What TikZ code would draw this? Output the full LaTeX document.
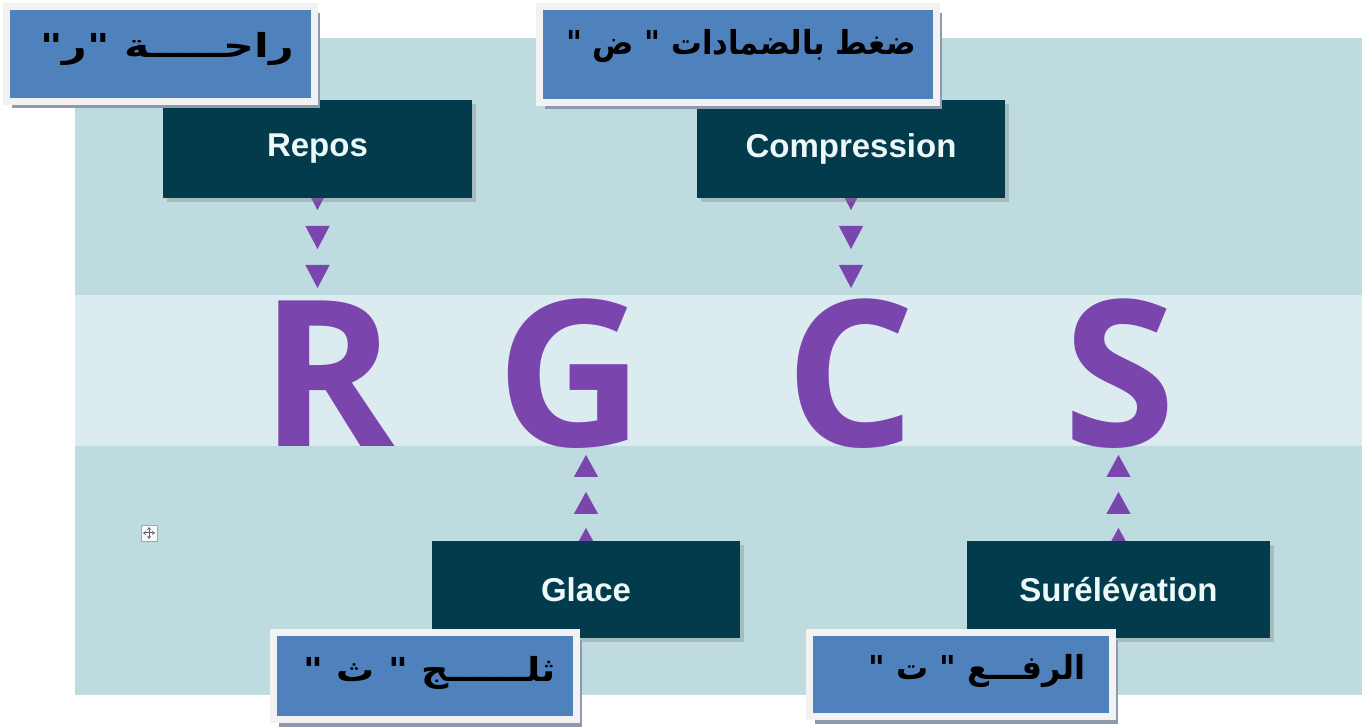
\documentclass[tikz,border=0pt]{standalone}
\usepackage{fontspec}
\setmainfont{Liberation Sans}
\newfontfamily\arabicfont[Script=Arabic]{DejaVu Sans}
\newfontfamily\bigfont{Open Sans}
\TeXXeTstate=1
\usetikzlibrary{arrows.meta,decorations.markings,shadows}
\definecolor{panel}{HTML}{BEDBE0}
\definecolor{band}{HTML}{DCEBEF}
\definecolor{darkbox}{HTML}{023C4C}
\definecolor{lettxt}{HTML}{EEF8F8}
\definecolor{purp}{HTML}{7B45AE}
\definecolor{lblblue}{HTML}{4F81BD}
\definecolor{lblframe}{HTML}{F2F2F2}
\definecolor{lblshadow}{HTML}{8E99AE}
\begin{document}
\begin{tikzpicture}[x=0.5pt,y=-0.5pt,
  termbox/.style={fill=darkbox,text=lettxt,font=\fontsize{16.5}{18}\selectfont\bfseries,
    inner sep=0pt,drop shadow={shadow xshift=2pt,shadow yshift=-2pt,opacity=.35}},
  bigletter/.style={text=purp,inner sep=0pt,anchor=base,font=\bigfont\bfseries\fontsize{102}{106}\selectfont},
  lblbox/.style={fill=lblblue,draw=lblframe,line width=3.5pt,inner sep=0pt,
    drop shadow={shadow xshift=2.5pt,shadow yshift=-3.5pt,fill=lblshadow,opacity=1}},
  lbltext/.style={text=black,inner sep=0pt,font=\arabicfont\bfseries\fontsize{16.5}{18}\selectfont},
  downmarks/.style={postaction={decorate},decoration={markings,
    mark=at position 6pt with {\arrow[purp]{Triangle[width=12pt,length=11.5pt]}},
    mark=at position 25.5pt with {\arrow[purp]{Triangle[width=12pt,length=11.5pt]}},
    mark=at position 45pt with {\arrow[purp]{Triangle[width=12pt,length=11.5pt]}}}},
  upmarks/.style={postaction={decorate},decoration={markings,
    mark=at position 6.5pt with {\arrow[purp]{Triangle[width=12pt,length=11pt]}},
    mark=at position 24.5pt with {\arrow[purp]{Triangle[width=12pt,length=11pt]}},
    mark=at position 43pt with {\arrow[purp]{Triangle[width=12pt,length=11pt]}}}}
]
\useasboundingbox (0,0) rectangle (1362,727);
\fill[white] (0,0) rectangle (1362,727);
% background panel and band
\fill[panel] (75,38) rectangle (1362,695);
\fill[band] (75,295) rectangle (1362,446);
% move icon
\fill[white!85!panel] (141,525) rectangle (157,541);
\draw[gray!70,line width=0.4pt] (141,525) rectangle (157,541);
\draw[gray!80!black,line width=0.5pt,-{Stealth[length=1.5pt,width=2pt]}] (149,533) -- (149,527);
\draw[gray!80!black,line width=0.5pt,-{Stealth[length=1.5pt,width=2pt]}] (149,533) -- (149,539);
\draw[gray!80!black,line width=0.5pt,-{Stealth[length=1.5pt,width=2pt]}] (149,533) -- (143,533);
\draw[gray!80!black,line width=0.5pt,-{Stealth[length=1.5pt,width=2pt]}] (149,533) -- (155,533);
% letters
\node[bigletter] (R) at (328,447) {R};
\node[bigletter] (G) at (570,447) {G};
\node[bigletter] (C) at (850,447) {C};
\node[bigletter] (S) at (1120,447) {S};
% connectors (drawn before boxes)
\coordinate (repC) at (317.5,198);
\coordinate (comC) at (851,198);
\coordinate (glaC) at (586,541);
\coordinate (surC) at (1118.5,541);
\path[downmarks] (repC) -- (repC |- R.north);
\path[downmarks] (comC) -- (comC |- C.north);
\path[upmarks] (glaC) -- (glaC |- G.south);
\path[upmarks] (surC) -- (surC |- S.south);
% term boxes
\node[termbox,minimum width=154.5pt,minimum height=49pt] (Repos) at (317.5,149) {Repos};
\node[termbox,minimum width=154pt,minimum height=49pt] (Comp) at (851,149) {Compression};
\node[termbox,minimum width=154pt,minimum height=48.5pt] (Glace) at (586,589.5) {Glace};
\node[termbox,minimum width=151.5pt,minimum height=48.5pt] (Sur) at (1118.5,589.5) {Surélévation};
% Arabic label boxes
\node[lblbox,minimum width=154pt,minimum height=47.5pt] (L1) at (160.5,54) {};
\node[lbltext] (T1) at (167,49) {\scalebox{1.3}[1]{\beginR راحـــــة "ر"\endR}};
\node[lblbox,minimum width=198.5pt,minimum height=48pt] (L2) at (738,54.5) {};
\node[lbltext] (T2) at (741,46) {\scalebox{0.93}[1]{\beginR ضغط بالضمادات " ض "\endR}};
\node[lblbox,minimum width=151.5pt,minimum height=43.5pt] (L3) at (425,676) {};
\node[lbltext] (T3) at (430,673) {\scalebox{1.15}[1]{\beginR ثلــــــج " ث "\endR}};
\node[lblbox,minimum width=151.5pt,minimum height=42pt] (L4) at (961,674.5) {};
\node[lbltext] (T4) at (977,671) {\scalebox{0.97}[1]{\beginR الرفـــع " ت "\endR}};
\end{tikzpicture}
\end{document}
